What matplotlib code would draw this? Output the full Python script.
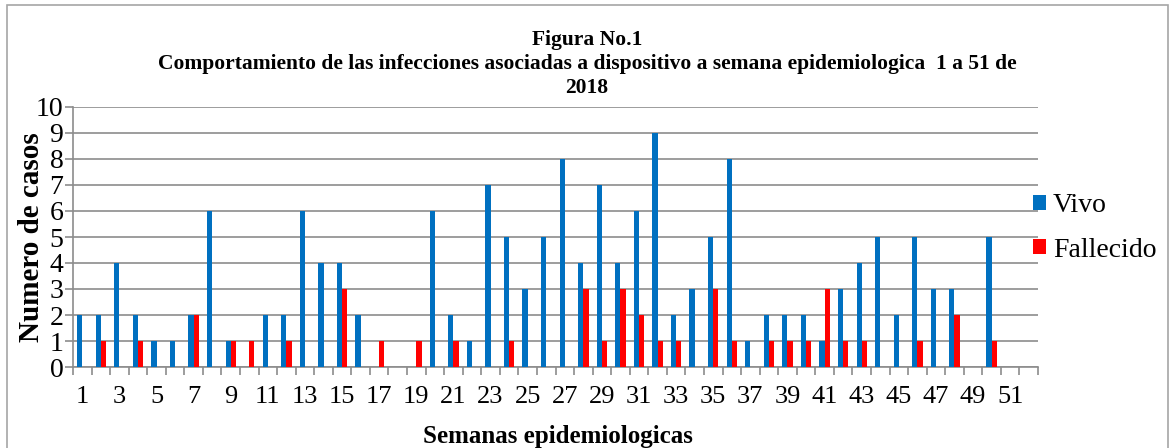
import numpy as np
import matplotlib
matplotlib.use('Agg')
import matplotlib.pyplot as plt
from matplotlib.patches import Rectangle

# Datos por semana epidemiologica (1 a 52)
semanas = list(range(1, 53))
vivo = [2, 2, 4, 2, 1, 1, 2, 6, 1, 0,
        2, 2, 6, 4, 4, 2, 0, 0, 0, 6,
        2, 1, 7, 5, 3, 5, 8, 4, 7, 4,
        6, 9, 2, 3, 5, 8, 1, 2, 2, 2,
        1, 3, 4, 5, 2, 5, 3, 3, 0, 5,
        0, 0]
fallecido = [0, 1, 0, 1, 0, 0, 2, 0, 1, 1,
             0, 1, 0, 0, 3, 0, 1, 0, 1, 0,
             1, 0, 0, 1, 0, 0, 0, 3, 1, 3,
             2, 1, 1, 0, 3, 1, 0, 1, 1, 1,
             3, 1, 1, 0, 0, 1, 0, 2, 0, 1,
             0, 0]
etiquetas_x = [str(s) for s in semanas[::2]]

plt.rcParams['font.family'] = ['Liberation Serif', 'DejaVu Serif']

fig = plt.figure(figsize=(11.74, 4.48), dpi=100)
ax = fig.add_axes([73 / 1174, 1 - 367 / 448, (1038 - 73) / 1174, (367 - 107) / 448])

# borde del grafico
fig.patches.append(Rectangle((7 / 1174, -0.01), 1 - 13 / 1174, 1 - 5 / 448 + 0.01, transform=fig.transFigure,
                             fill=False, edgecolor='#a6a6a6', linewidth=1.2))

x = np.array(semanas)
w = 0.28
ax.bar(x - w / 2, vivo, width=w, color='#0070C0', label='Vivo', zorder=3)
ax.bar(x + w / 2, fallecido, width=w, color='#FF0000', label='Fallecido', zorder=3)

ax.set_xlim(0.5, 52.5)
ax.set_ylim(0, 10)
ax.set_yticks(range(0, 11))
ax.yaxis.grid(True, color='#8c8c8c', linewidth=1.2, zorder=0)

ax.set_xticks(semanas[::2])
ax.set_xticklabels(etiquetas_x, fontsize=19)
ax.set_xticks(np.arange(0.5, 53, 1), minor=True)
ax.tick_params(axis='x', which='major', length=0, pad=14)
ax.tick_params(axis='x', which='minor', length=6, color='#8c8c8c', width=1.2)
ax.tick_params(axis='y', labelsize=20, length=6, color='#8c8c8c', width=1.2, pad=1)

for s in ['top', 'right']:
    ax.spines[s].set_visible(False)
for s in ['left', 'bottom']:
    ax.spines[s].set_color('#8c8c8c')
    ax.spines[s].set_linewidth(1.2)

ax.set_ylabel('Numero de casos', fontsize=21, fontweight='bold')
ax.yaxis.set_label_coords(-0.043, 0.5)
ax.yaxis.label.set_verticalalignment('center')
ax.set_xlabel('Semanas epidemiologicas', fontsize=18, fontweight='bold')
ax.xaxis.set_label_coords(0.503, (367 - 436) / 260)
ax.xaxis.label.set_verticalalignment('center')

fig.text(0.5, 1 - 40 / 448, 'Figura No.1', ha='center', va='center', fontsize=15.5, fontweight='bold')
fig.text(0.5, 1 - 64 / 448, 'Comportamiento de las infecciones asociadas a dispositivo a semana epidemiologica  1 a 51 de',
         ha='center', va='center', fontsize=15.5, fontweight='bold')
fig.text(0.5, 1 - 88 / 448, '2018', ha='center', va='center', fontsize=15.5, fontweight='bold')

ax.legend(loc='center left', bbox_to_anchor=((1033 - 73) / 965, 0.535), frameon=False, fontsize=20,
          handlelength=0.47, handleheight=0.47, handletextpad=0.25, labelspacing=0.7,
          borderaxespad=0.0, borderpad=0.0)

fig.savefig('out.png', dpi=100)
